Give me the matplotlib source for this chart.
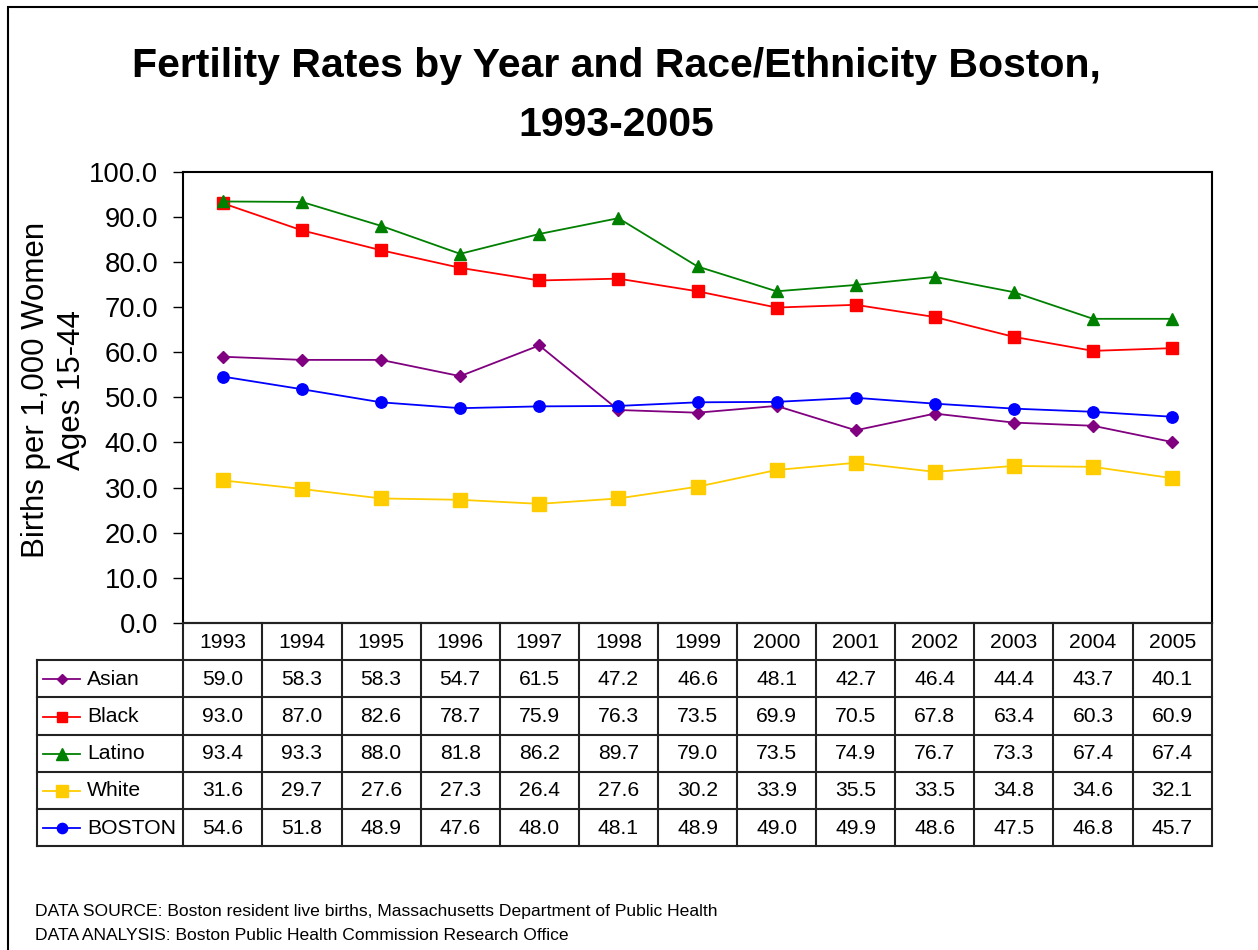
import numpy as np
import matplotlib
matplotlib.use("Agg")
import matplotlib.pyplot as plt
from matplotlib.patches import Rectangle

plt.rcParams['font.family'] = ['Liberation Sans', 'DejaVu Sans']

years = ['1993', '1994', '1995', '1996', '1997', '1998', '1999',
         '2000', '2001', '2002', '2003', '2004', '2005']
asian = [59.0, 58.3, 58.3, 54.7, 61.5, 47.2, 46.6, 48.1, 42.7, 46.4, 44.4, 43.7, 40.1]
black = [93.0, 87.0, 82.6, 78.7, 75.9, 76.3, 73.5, 69.9, 70.5, 67.8, 63.4, 60.3, 60.9]
latino = [93.4, 93.3, 88.0, 81.8, 86.2, 89.7, 79.0, 73.5, 74.9, 76.7, 73.3, 67.4, 67.4]
white = [31.6, 29.7, 27.6, 27.3, 26.4, 27.6, 30.2, 33.9, 35.5, 33.5, 34.8, 34.6, 32.1]
boston = [54.6, 51.8, 48.9, 47.6, 48.0, 48.1, 48.9, 49.0, 49.9, 48.6, 47.5, 46.8, 45.7]

series_names = ['Asian', 'Black', 'Latino', 'White', 'BOSTON']
series_vals = [asian, black, latino, white, boston]
colors = ['#800080', '#FF0000', '#008000', '#FFCC00', '#0000FF']
markers = ['D', 's', '^', 's', 'o']
msizes = [6.2, 8, 9, 9.4, 8.2]

W, H = 1258, 950
fig = plt.figure(figsize=(W / 100, H / 100), dpi=100)

# outer frame (right and bottom run off the picture)
fig.patches.append(Rectangle((8 / W, -0.1), 2, 1 - 7 / H + 0.1, transform=fig.transFigure,
                             fill=False, edgecolor='black', linewidth=1.5))

# main plot
ax = fig.add_axes([183.3 / W, 1 - 623 / H, (1211.7 - 183.3) / W, (623 - 171.7) / H])
x = np.arange(len(years))
for name, vals, c, m, ms in zip(series_names, series_vals, colors, markers, msizes):
    ax.plot(x, vals, color=c, marker=m, markersize=ms, linewidth=1.3, label=name)

ax.set_xlim(-0.5, len(years) - 0.5)
ax.set_ylim(0, 100)
ax.set_yticks(np.arange(0, 101, 10))
ax.set_yticklabels([f"{v:.1f}" for v in np.arange(0, 101, 10)], fontsize=19.8)
ax.set_xticks([])
ax.tick_params(axis='y', length=7, width=1, direction='out', pad=11)
for s in ax.spines.values():
    s.set_linewidth(1.5)
    s.set_color('black')

fig.text(54 / W, 1 - 390 / H, "Births per 1,000 Women\nAges 15-44", rotation=90,
         ha='center', va='center', multialignment='center', fontsize=22.5, linespacing=1.3)

fig.text(616 / W, 1 - 77 / H, "Fertility Rates by Year and Race/Ethnicity Boston,",
         ha='center', va='baseline', fontsize=29.5, fontweight='bold')
fig.text(616 / W, 1 - 136 / H, "1993-2005", ha='center', va='baseline',
         fontsize=29.5, fontweight='bold')

# data table under the chart
lab_w = (183.3 - 36.7) / 79.1
tab = fig.add_axes([36.7 / W, 1 - 846 / H, (1211.7 - 36.7) / W, (846 - 623) / H])
tab.set_xlim(-0.5 - lab_w, len(years) - 0.5)
tab.set_ylim(len(series_names) + 1, 0)
tab.axis('off')
lc = '#222222'
nrow = len(series_names) + 1
for k in range(len(years) + 1):
    tab.plot([k - 0.5, k - 0.5], [0, nrow], color=lc, linewidth=1.5, clip_on=False)
tab.plot([-0.5 - lab_w, -0.5 - lab_w], [1, nrow], color=lc, linewidth=1.5, clip_on=False)
tab.plot([-0.5, len(years) - 0.5], [0, 0], color=lc, linewidth=1.5, clip_on=False)
for r in range(1, nrow + 1):
    tab.plot([-0.5 - lab_w, len(years) - 0.5], [r, r], color=lc, linewidth=1.5, clip_on=False)

for j, yr in enumerate(years):
    tab.text(j, 0.52, yr, ha='center', va='center', fontsize=15.2)
for i, (name, vals, c, m, ms) in enumerate(zip(series_names, series_vals, colors, markers, msizes)):
    yy = i + 1.52
    x0 = -0.5 - lab_w
    tab.plot([x0 + 0.08, x0 + 0.55], [yy, yy], color=c, linewidth=1.3, clip_on=False)
    tab.plot([x0 + 0.315], [yy], color=c, marker=m, markersize=ms * 0.9, clip_on=False)
    tab.text(x0 + 0.64, yy, name, ha='left', va='center', fontsize=15.2)
    for j, v in enumerate(vals):
        tab.text(j, yy, f"{v:.1f}", ha='center', va='center', fontsize=15.2)

fig.text(35 / W, 1 - 916 / H, "DATA SOURCE: Boston resident live births, Massachusetts Department of Public Health",
         ha='left', va='baseline', fontsize=12.6)
fig.text(35 / W, 1 - 940 / H, "DATA ANALYSIS: Boston Public Health Commission Research Office",
         ha='left', va='baseline', fontsize=12.6)

fig.savefig('out.png', dpi=100)
